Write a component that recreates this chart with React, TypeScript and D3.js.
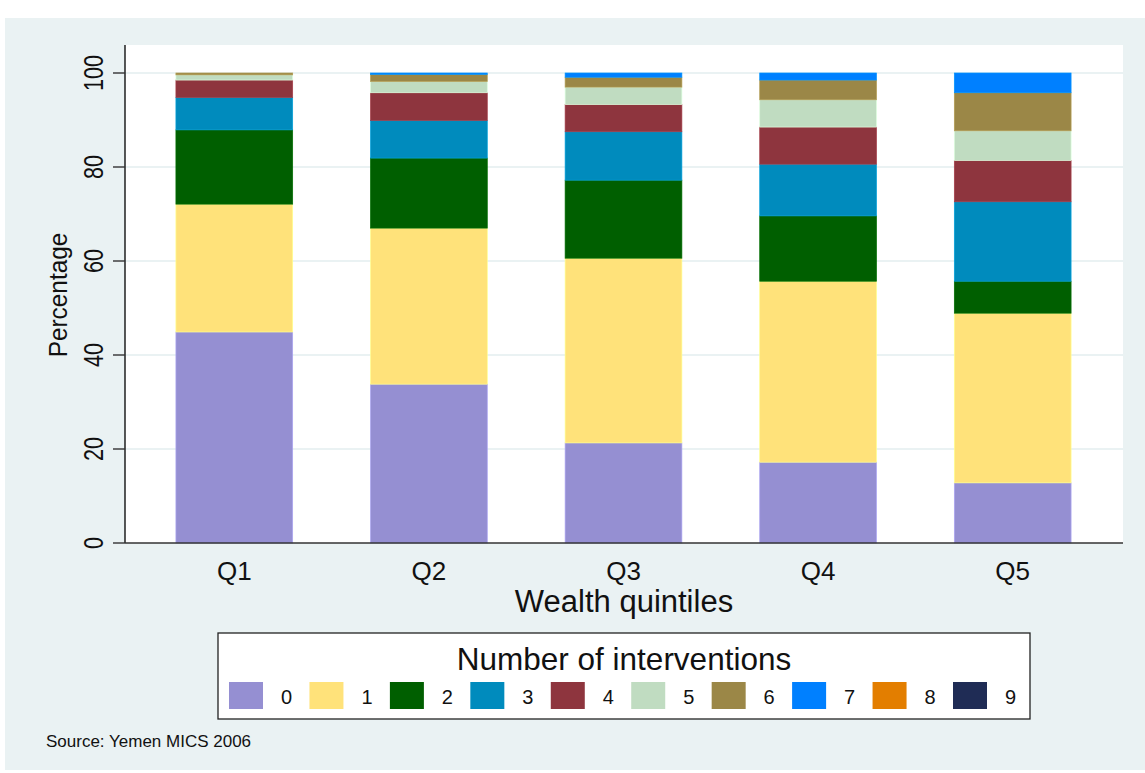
import React from 'react';
import * as d3 from 'd3';

// Wealth quintiles on the x axis
const QUINTILES = ['Q1', 'Q2', 'Q3', 'Q4', 'Q5'];

// Number of interventions (stack keys)
const INTERVENTIONS = ['0', '1', '2', '3', '4', '5', '6', '7', '8', '9'];

// Percentage share per quintile, one array per number of interventions (Q1..Q5)
const N0 = [44.9, 33.8, 21.3, 17.2, 12.8];
const N1 = [27.2, 33.2, 39.3, 38.5, 36.1];
const N2 = [15.8, 14.9, 16.6, 13.9, 6.8];
const N3 = [6.9, 8.0, 10.3, 11.0, 16.9];
const N4 = [3.7, 5.9, 5.8, 7.9, 8.8];
const N5 = [1.1, 2.4, 3.7, 5.8, 6.3];
const N6 = [0.4, 1.5, 2.1, 4.2, 8.1];
const N7 = [0.0, 0.3, 0.9, 1.5, 4.2];
const N8 = [0, 0, 0, 0, 0];
const N9 = [0, 0, 0, 0, 0];

const Y_TICKS = [0, 20, 40, 60, 80, 100];

const COLORS = [
  '#958fd2', '#ffe27a', '#005f00', '#008bbd', '#8e353e',
  '#c0dcc1', '#9b8747', '#0080ff', '#e37e00', '#1f2c55',
];

const SERIES = [N0, N1, N2, N3, N4, N5, N6, N7, N8, N9];

const FONT = '"Liberation Sans", Arial, Helvetica, sans-serif';

export default function App() {
  const W = 1145;
  const H = 773;
  const plot = { left: 125, right: 1123, top: 45, bottom: 543 };

  const rows = QUINTILES.map((q, i) => {
    const r: Record<string, any> = { q };
    INTERVENTIONS.forEach((k, j) => (r[k] = SERIES[j][i]));
    return r;
  });

  const stack = d3.stack<any>().keys(INTERVENTIONS)(rows);

  const x = d3.scaleBand()
    .domain(QUINTILES)
    .range([137, 1110])
    .paddingInner(0.4)
    .paddingOuter(0.2);

  const y = d3.scaleLinear().domain([0, 100]).range([plot.bottom, 73]);

  // legend layout
  const legend = { x: 218, y: 633, w: 812, h: 86 };
  const lx = d3.scaleLinear().domain([0, 9]).range([229, 953]);

  return (
    <svg width={W} height={H} style={{ position: 'absolute', left: 0, top: 0 }} fontFamily={FONT}>
      <rect x={0} y={0} width={W} height={H} fill="#ffffff" />
      <rect x={5} y={18} width={W - 5} height={H - 21} fill="#eaf2f3" />
      <rect x={plot.left} y={plot.top} width={plot.right - plot.left} height={plot.bottom - plot.top} fill="#ffffff" />

      {/* gridlines */}
      {Y_TICKS.filter(t => t > 0).map(t => (
        <line key={t} x1={plot.left} x2={plot.right} y1={y(t)} y2={y(t)} stroke="#eaf2f3" strokeWidth={2} />
      ))}

      {/* stacked bars */}
      {stack.map((s, j) => (
        <g key={s.key} fill={COLORS[j]}>
          {s.map((d, i) => (d[1] - d[0] > 0 ? (
            <rect
              key={i}
              x={x(QUINTILES[i])}
              y={y(d[1])}
              width={x.bandwidth()}
              height={y(d[0]) - y(d[1])}
              stroke={d3.color(COLORS[j])!.brighter(0.4).formatHex()}
              strokeWidth={0.7}
            />
          ) : null))}
        </g>
      ))}

      {/* y axis */}
      <line x1={plot.left} x2={plot.left} y1={plot.top} y2={plot.bottom} stroke="#111" strokeWidth={1.4} />
      {Y_TICKS.map(t => (
        <g key={t}>
          <line x1={113} x2={plot.left} y1={y(t)} y2={y(t)} stroke="#333" strokeWidth={1.4} />
          <text
            transform={`translate(103,${y(t)}) rotate(-90) scale(0.8,1)`}
            textAnchor="middle"
            fontSize={27}
            fill="#111"
          >
            {t}
          </text>
        </g>
      ))}
      <text transform="translate(67,295) rotate(-90) scale(0.92,1)" textAnchor="middle" fontSize={26.5} fill="#111">
        Percentage
      </text>

      {/* x axis */}
      <line x1={plot.left} x2={plot.right} y1={plot.bottom} y2={plot.bottom} stroke="#333" strokeWidth={1.4} />
      {QUINTILES.map(q => (
        <text key={q} x={x(q)! + x.bandwidth() / 2} y={580} textAnchor="middle" fontSize={26} fill="#111">
          {q}
        </text>
      ))}
      <text x={(plot.left + plot.right) / 2} y={612} textAnchor="middle" fontSize={31} fill="#111">
        Wealth quintiles
      </text>

      {/* legend */}
      <rect x={legend.x} y={legend.y} width={legend.w} height={legend.h} fill="#ffffff" stroke="#222" strokeWidth={1.3} />
      <text x={legend.x + legend.w / 2} y={670} textAnchor="middle" fontSize={31.5} fill="#111">
        Number of interventions
      </text>
      {INTERVENTIONS.map((k, j) => (
        <g key={k}>
          <rect x={lx(j)} y={682} width={34} height={27} fill={COLORS[j]} />
          <text x={lx(j) + 57.5} y={703.5} textAnchor="middle" fontSize={20} fill="#111">
            {k}
          </text>
        </g>
      ))}

      <text x={46} y={747} fontSize={17} fill="#111">
        Source: Yemen MICS 2006
      </text>
    </svg>
  );
}
